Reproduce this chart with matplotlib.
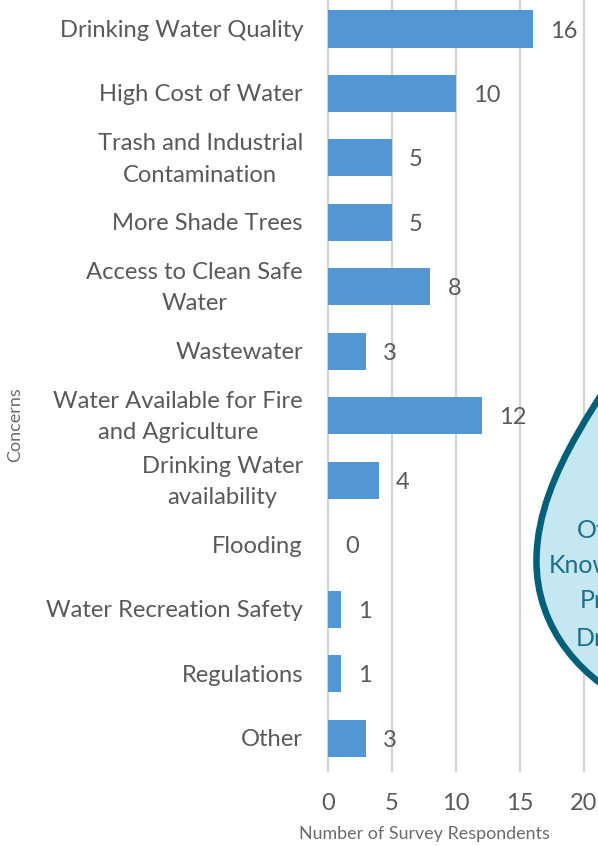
import matplotlib
matplotlib.use("Agg")
import matplotlib.pyplot as plt
from matplotlib.patches import PathPatch
from matplotlib.path import Path
from matplotlib.transforms import Affine2D

categories = ["Drinking Water Quality", "High Cost of Water",
              "Trash and Industrial\nContamination", "More Shade Trees",
              "Access to Clean Safe\nWater", "Wastewater",
              "Water Available for Fire\nand Agriculture",
              "Drinking Water\navailability", "Flooding",
              "Water Recreation Safety", "Regulations", "Other"]
values = [16, 10, 5, 5, 8, 3, 12, 4, 0, 1, 1, 3]
x_ticks = [0, 5, 10, 15, 20]
drop_lines = ["Of", "Know", "Pr", "Dr"]

W, H = 598, 846
plt.rcParams["font.family"] = ["Lato", "DejaVu Sans"]
grey = "#595959"
fig = plt.figure(figsize=(W / 100, H / 100), dpi=100)
ax = fig.add_axes([328 / W, (H - 771) / H, (W - 328) / W, 771 / H])
ax.set_xlim(0, (W - 328) / 12.8)
ax.set_ylim(11.51, -0.45)
ypos = list(range(len(categories)))
ax.barh(ypos, values, height=0.575, color="#5296D3", zorder=3)
for x in x_ticks:
    ax.axvline(x, color="#D4D4D4", lw=1.6, zorder=1, clip_on=False)
for s in ax.spines.values():
    s.set_visible(False)
ax.set_yticks(ypos)
ax.set_yticklabels([])
for y, cat in zip(ypos, categories):
    ax.annotate(cat, (0, y), xycoords=ax.get_yaxis_transform(),
                xytext=(-25, -1.5), textcoords="offset pixels",
                ha="right", va="center", multialignment="center",
                fontsize=17.1, color=grey, linespacing=1.6,
                annotation_clip=False)
ax.set_xticks(x_ticks)
ax.tick_params(axis="both", length=0)
ax.tick_params(axis="x", pad=16, labelsize=17, labelcolor=grey)
for y, v in zip(ypos, values):
    ax.annotate(str(v), (v, y), xytext=(17, -2), textcoords="offset pixels",
                va="center", ha="left", fontsize=17, color=grey, zorder=5)
fig.text(424 / W, 1 - 834 / H, "Number of Survey Respondents", fontsize=12.85,
         color="#6b6b6b", ha="center", va="center")
fig.text(15 / W, 1 - 425 / H, "Concerns", fontsize=13, rotation=90,
         color="#6b6b6b", ha="center", va="center")

# Water-drop callout, in pixel coordinates measured from the top-left corner
px = Affine2D().scale(1, -1).translate(0, H)
verts = [(640, 330), (610, 390), (538, 470), (536.5, 558),
         (535, 630), (585, 683), (640, 706), (640, 330)]
codes = [Path.MOVETO, Path.CURVE4, Path.CURVE4, Path.CURVE4,
         Path.CURVE4, Path.CURVE4, Path.CURVE4, Path.CLOSEPOLY]
fig.add_artist(PathPatch(Path(verts, codes), transform=px, facecolor="#C5E7F1",
                         edgecolor="#005F79", lw=4.7, zorder=6))
for (tx, ty), t in zip([(577, 530), (549, 565), (580, 601), (576, 638)], drop_lines):
    fig.text(tx / W, 1 - ty / H, t, fontsize=18, color="#1D6F8A",
             ha="left", va="center", zorder=7)
fig.savefig("out.png", dpi=100)
